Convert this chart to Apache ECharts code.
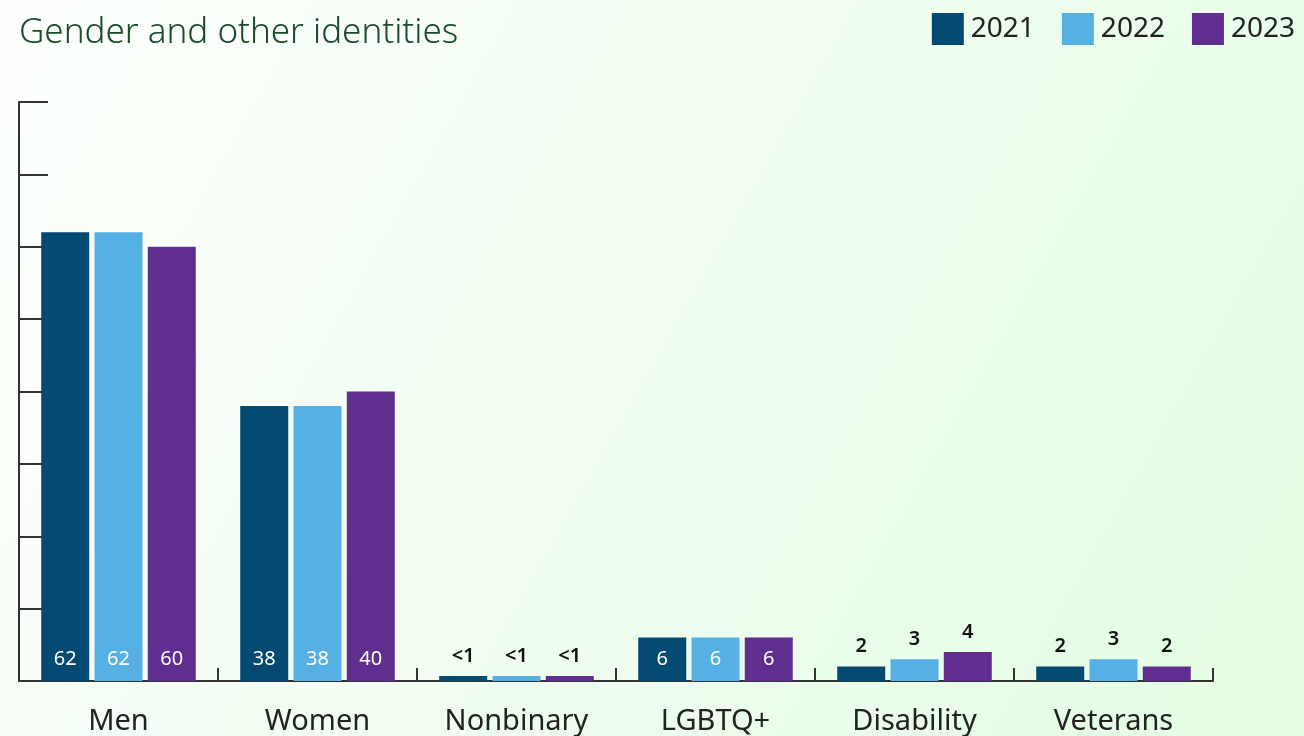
<!DOCTYPE html>
<html>
<head>
<meta charset="utf-8">
<script src="https://cdn.jsdelivr.net/npm/echarts@6/dist/echarts.min.js"></script>
<style>
  html, body { margin: 0; padding: 0; }
  #chart { width: 1304px; height: 736px; }
</style>
</head>
<body>
<div id="chart"></div>
<script>
// data
const categories = ["Men", "Women", "Nonbinary", "LGBTQ+", "Disability", "Veterans"];
const years = ["2021", "2022", "2023"];
const values2021 = [62, 38, 0.7, 6, 2, 2];
const values2022 = [62, 38, 0.7, 6, 3, 3];
const values2023 = [60, 40, 0.7, 6, 4, 2];
const colors = ["#034a72", "#56b0e3", "#5f2e8f"];

const font = "Noto Sans";

// big bars get white labels at the bottom, small ones black above
function makeData(arr) {
  return arr.map(v => {
    if (v >= 5) {
      return { value: v, label: { position: "insideBottom", distance: 12, color: "#fff", fontSize: 20, fontWeight: "normal" } };
    }
    return { value: v, label: { position: "top", distance: 10, color: "#111", fontSize: 20, fontWeight: 600 } };
  });
}

const chart = echarts.init(document.getElementById("chart"));
const allValues = [values2021, values2022, values2023];

const option = {
  backgroundColor: new echarts.graphic.LinearGradient(0, 0, 1, 1, [
    { offset: 0, color: "#fdfffd" },
    { offset: 1, color: "#e3fce3" }
  ]),
  textStyle: { fontFamily: font },
  title: {
    text: "Gender and other identities",
    left: 14,
    top: 11,
    textStyle: { fontSize: 35, fontWeight: 300, color: "#1a4a28", fontFamily: font }
  },
  legend: {
    data: years,
    right: 4,
    top: 8,
    itemWidth: 32,
    itemHeight: 32,
    itemGap: 27,
    icon: "rect",
    textStyle: { fontSize: 28, color: "#222", padding: [0, 0, 0, 2] }
  },
  grid: { left: 19, right: 91, top: 102, bottom: 54 },
  xAxis: {
    type: "category",
    data: categories,
    axisLine: { lineStyle: { color: "#333", width: 2 } },
    axisTick: { show: true, inside: true, interval: 0, length: 13, lineStyle: { color: "#333", width: 2 } },
    axisLabel: { interval: 0, fontSize: 29, color: "#222", margin: 26 }
  },
  yAxis: {
    type: "value",
    min: 0,
    max: 80,
    interval: 10,
    axisLine: { show: true, lineStyle: { color: "#333", width: 2 } },
    axisTick: { show: true, inside: true, length: 29, lineStyle: { color: "#333", width: 2 } },
    axisLabel: { show: false },
    splitLine: { show: false }
  },
  series: years.map((y, i) => ({
    name: y,
    type: "bar",
    barWidth: 48,
    barGap: "11%",
    itemStyle: { color: colors[i] },
    label: {
      show: true,
      fontFamily: font,
      formatter: p => (p.value < 1 ? "<1" : p.value)
    },
    data: makeData(allValues[i])
  }))
};

chart.setOption(option);
</script>
</body>
</html>
